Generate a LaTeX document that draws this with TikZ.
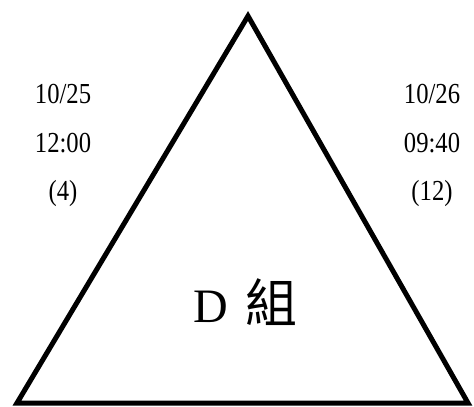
\documentclass[tikz,border=0pt]{standalone}
\usepackage{fontspec}
\setmainfont{Liberation Serif}
\newfontfamily\numfont[FakeStretch=0.85]{Liberation Serif}
\newfontfamily\cjkfont{Noto Sans CJK TC}
\begin{document}
\begin{tikzpicture}[x=1pt,y=-1pt,
  tri/.style={draw=black,line width=5pt,line join=miter},
  lbl/.style={inner sep=0pt,anchor=base,font=\numfont\fontsize{29}{30}\selectfont},
  title/.style={inner sep=0pt,anchor=base west,font=\fontsize{48}{50}\selectfont}]
\useasboundingbox (0,0) rectangle (474,407);
\coordinate (A) at (248,16);
\coordinate (B) at (17,403);
\coordinate (C) at (468,403);
\draw[tri] (A) -- (B) -- (C) -- cycle;
\node[lbl] (l1) at (63,103) {10/25};
\node[lbl] (l2) at (63,152) {12:00};
\node[lbl] (l3) at (63,200) {(4)};
\node[lbl] (r1) at (432,103) {10/26};
\node[lbl] (r2) at (432,152) {09:40};
\node[lbl] (r3) at (432,200) {(12)};
\node[title] (d) at (193,322) {D};
\node[title,font=\cjkfont\fontsize{52}{54}\selectfont] (z) at (245,322) {組};
\end{tikzpicture}
\end{document}
